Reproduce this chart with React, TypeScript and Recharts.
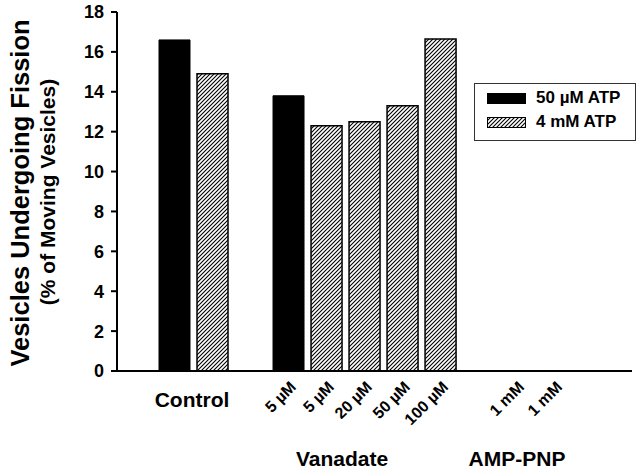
import { BarChart, Bar, XAxis, YAxis } from 'recharts';

// slot positions along the x axis (gaps separate the groups)
const slots = [1, 2, 4, 5, 6, 7, 8, 10, 11];
const atp50 = [16.6, null, 13.8, null, null, null, null, 0, null];
const atp4 = [null, 14.9, null, 12.3, 12.5, 13.3, 16.65, null, 0];
const doseLabels = ['', '', '5 µM', '5 µM', '20 µM', '50 µM', '100 µM', '1 mM', '1 mM'];
const yTicks = [0, 2, 4, 6, 8, 10, 12, 14, 16, 18];
const groupLabels = ['Control', 'Vanadate', 'AMP-PNP'];
const seriesNames = ['50 µM ATP', '4 mM ATP'];

const data = slots.map((x, i) => ({ x, atp50: atp50[i], atp4: atp4[i] }));

const FONT = '"Liberation Sans", Arial, Helvetica, sans-serif';

const DoseTick = (props: any) => {
  const { x, y, payload } = props;
  const label = doseLabels[slots.indexOf(payload.value)];
  if (!label) return null;
  const tx = x + 9;
  const ty = y + 9;
  return (
    <text
      x={tx}
      y={ty}
      transform={`rotate(-45 ${tx} ${ty})`}
      textAnchor="end"
      fontFamily={FONT}
      fontWeight="bold"
      fontSize={16}
      fill="#000"
    >
      {label}
    </text>
  );
};

const Hatch = ({ id }: { id: string }) => (
  <pattern id={id} patternUnits="userSpaceOnUse" width={4} height={4}>
    <rect width={4} height={4} fill="#fff" />
    <path d="M-1,1 L1,-1 M0,4 L4,0 M3,5 L5,3" stroke="#000" strokeWidth={1.1} />
  </pattern>
);

const LegendBox = () => (
  <div
    style={{
      position: 'absolute',
      left: 474,
      top: 83,
      width: 160,
      height: 56,
      border: '1.5px solid #333',
      background: '#fff',
      fontFamily: FONT,
      fontWeight: 'bold',
      fontSize: 17,
      color: '#000',
    }}
  >
    <div style={{ position: 'absolute', left: 12, top: 9, width: 39, height: 11, background: '#000' }} />
    <svg style={{ position: 'absolute', left: 12, top: 33 }} width={39} height={11}>
      <defs>
        <Hatch id="hatchLegend" />
      </defs>
      <rect x={0.5} y={0.5} width={38} height={10} fill="url(#hatchLegend)" stroke="#000" strokeWidth={1} />
    </svg>
    <div style={{ position: 'absolute', left: 61, top: 5, lineHeight: '18px' }}>{seriesNames[0]}</div>
    <div style={{ position: 'absolute', left: 61, top: 29, lineHeight: '18px' }}>{seriesNames[1]}</div>
  </div>
);

export default function App() {
  return (
    <div style={{ position: 'absolute', left: 0, top: 0, width: 640, height: 470, background: '#fff' }}>
      <BarChart width={640} height={470} data={data} margin={{ top: 12, right: 8, left: 57, bottom: 0 }}>
        <defs>
          <Hatch id="hatch" />
        </defs>
        <XAxis
          dataKey="x"
          type="number"
          domain={[-0.5, 13.05]}
          ticks={slots}
          allowDataOverflow
          height={99}
          tickLine={false}
          axisLine={{ stroke: '#000', strokeWidth: 2 }}
          tick={<DoseTick />}
          interval={0}
        />
        <YAxis
          domain={[0, 18]}
          ticks={yTicks}
          width={60}
          tickSize={6}
          tickMargin={7}
          axisLine={{ stroke: '#000', strokeWidth: 2 }}
          tickLine={{ stroke: '#000', strokeWidth: 2 }}
          tick={{ fill: '#000', fontSize: 18, fontWeight: 'bold', fontFamily: FONT }}
        />
        <Bar dataKey="atp50" name={seriesNames[0]} stackId="s" barSize={31} fill="#000" stroke="#000" strokeWidth={1} isAnimationActive={false} />
        <Bar dataKey="atp4" name={seriesNames[1]} stackId="s" barSize={31} fill="url(#hatch)" stroke="#000" strokeWidth={1.5} isAnimationActive={false} />
        <text
          transform="rotate(-90)"
          x={-193}
          y={29}
          textAnchor="middle"
          fontFamily={FONT}
          fontWeight="bold"
          fontSize={25.5}
          fill="#000"
        >
          Vesicles Undergoing Fission
        </text>
        <text
          transform="rotate(-90)"
          x={-192}
          y={55}
          textAnchor="middle"
          fontFamily={FONT}
          fontWeight="bold"
          fontSize={21}
          fill="#000"
        >
          (% of Moving Vesicles)
        </text>
        <text x={192} y={407} textAnchor="middle" fontFamily={FONT} fontWeight="bold" fontSize={21} fill="#000">
          {groupLabels[0]}
        </text>
        <text x={342} y={466} textAnchor="middle" fontFamily={FONT} fontWeight="bold" fontSize={21} fill="#000">
          {groupLabels[1]}
        </text>
        <text x={517} y={466} textAnchor="middle" fontFamily={FONT} fontWeight="bold" fontSize={21} fill="#000">
          {groupLabels[2]}
        </text>
      </BarChart>
      <LegendBox />
    </div>
  );
}
